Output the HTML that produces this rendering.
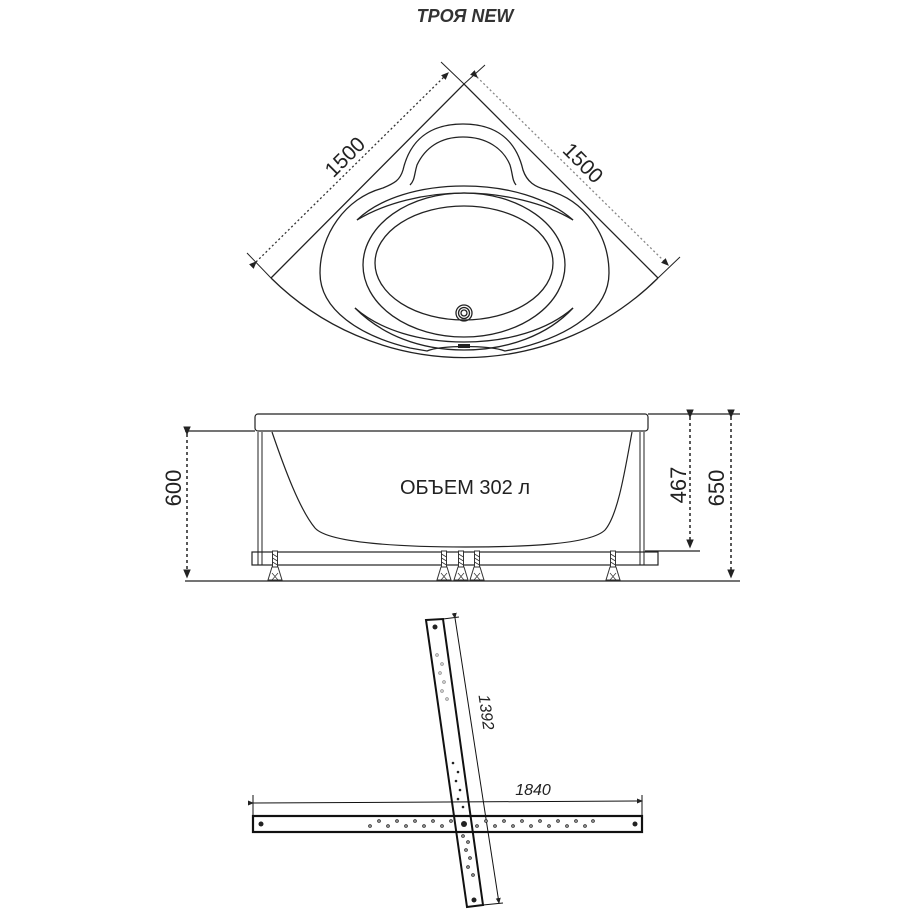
<!DOCTYPE html>
<html><head><meta charset="utf-8"><style>
html,body{margin:0;padding:0;background:#fff;}
svg{display:block;}
text{font-family:"Liberation Sans",sans-serif;fill:#222;}
</style></head><body>
<svg width="912" height="912" viewBox="0 0 912 912" xmlns="http://www.w3.org/2000/svg">
<defs>
<marker id="ar" markerWidth="6" markerHeight="6" refX="5" refY="3" orient="auto"><path d="M0,0.5 L6,3 L0,5.5 Z" fill="#222"/></marker>
<g id="leg"><rect x="-2.5" y="0" width="5" height="16" fill="#fff" stroke="#333" stroke-width="1"/><path d="M-2.5,3 L2.5,6 M-2.5,7 L2.5,10 M-2.5,11 L2.5,14" stroke="#333" stroke-width="0.8"/><path d="M-3,16 L3,16 L7,29 L-7,29 Z" fill="#fff" stroke="#333" stroke-width="1"/><path d="M-3,22 L3,29 M3,22 L-3,29" stroke="#333" stroke-width="0.7"/></g>
</defs>

<text x="465" y="22" font-size="18" font-style="italic" font-weight="bold" text-anchor="middle" style="fill:#333">ТРОЯ NEW</text>

<!-- TOP VIEW -->
<g fill="none" stroke="#222" stroke-width="1.3">
<path d="M271,278 L464,84 L658,278"/>
<path d="M271,278 A275,275 0 0 0 658,278"/>
<path d="M441,62 L464,84 M247,253 L271,278 M485,65 L464,84 M680,257 L658,278" stroke-width="1"/>
<path d="M383,188 C395,183 400,180 403,170 C410,140 430,124 463,124 C496,124 516,140 523,170 C527,182 535,187 547,190 C585,200 609,235 609,273 C609,310 570,335 520,348 L505,351 C490,345 440,345 427,351 L410,348 C360,336 320,310 320,273 C320,235 345,198 383,188 Z"/>
<path d="M410,185 C415,180 414,175 417,165 C425,148 440,137 463,137 C486,137 503,148 510,165 C513,175 512,180 516,185"/>
<path d="M357,220 C380,198 420,186 464,186 C508,186 548,198 573,220"/>
<path d="M357,220 C385,203 425,193 464,193 C503,193 545,203 573,220"/>
<ellipse cx="464" cy="265" rx="101" ry="72"/>
<ellipse cx="464" cy="263" rx="89" ry="57"/>
<path d="M355,308 C380,330 420,342 464,342 C508,342 548,330 573,308"/>
<path d="M355,308 C382,335 420,350 464,350 C508,350 548,335 573,308"/>
<circle cx="464" cy="313" r="8"/><circle cx="464" cy="313" r="5.5"/><circle cx="464" cy="313" r="3"/>
</g>
<rect x="458" y="344" width="12" height="4" fill="#222"/>
<path d="M256,262 L448,73" stroke="#333" stroke-width="1.3" stroke-dasharray="2,2.5" fill="none" marker-start="url(#ar)" marker-end="url(#ar)"/>
<path d="M477,77 L668,265" stroke="#888" stroke-width="1.3" stroke-dasharray="2,2.5" fill="none" marker-start="url(#ar)" marker-end="url(#ar)"/>
<text x="345" y="164" font-size="21" text-anchor="middle" transform="rotate(-45 345 157)">1500</text>
<text x="583" y="170" font-size="21" text-anchor="middle" transform="rotate(45 583 163)">1500</text>

<!-- SIDE VIEW -->
<g fill="none" stroke="#222" stroke-width="1.2">
<path d="M648,414 L740,414 M185,431 L255,431 M185,581 L740,581 M645,551 L700,551"/>
<rect x="255" y="414" width="393" height="17" rx="3" fill="#fff"/>
<path d="M272,432 C285,470 300,510 315,528 C330,545 420,547 465,547 C520,547 590,545 605,530 C618,515 625,470 632,432"/>
<rect x="252" y="552" width="406" height="13" fill="#fff"/>
<path d="M258,432 L258,565 M262,432 L262,565 M640,432 L640,565 M644,432 L644,565" stroke-width="1"/>
</g>
<use href="#leg" x="275" y="551"/>
<use href="#leg" x="444" y="551"/>
<use href="#leg" x="461" y="551"/>
<use href="#leg" x="477" y="551"/>
<use href="#leg" x="613" y="551"/>
<path d="M187,434 L187,577" stroke="#222" stroke-width="1.5" stroke-dasharray="3,3" marker-start="url(#ar)" marker-end="url(#ar)"/>
<path d="M690,417 L690,547" stroke="#222" stroke-width="1.5" stroke-dasharray="3,3" marker-start="url(#ar)" marker-end="url(#ar)"/>
<path d="M731,417 L731,577" stroke="#222" stroke-width="1.5" stroke-dasharray="3,3" marker-start="url(#ar)" marker-end="url(#ar)"/>
<text x="465" y="494" font-size="20" text-anchor="middle">ОБЪЕМ 302 л</text>
<text x="0" y="0" font-size="22" text-anchor="middle" transform="translate(181,488) rotate(-90)">600</text>
<text x="0" y="0" font-size="22" text-anchor="middle" transform="translate(686,485) rotate(-90)">467</text>
<text x="0" y="0" font-size="22" text-anchor="middle" transform="translate(724,488) rotate(-90)">650</text>

<!-- FRAME -->
<g fill="none" stroke="#111">
<rect x="253" y="816" width="389" height="16" stroke-width="2.2" fill="#fff"/>
<path d="M426,620 L443,619 L483,905 L467,907 Z" stroke-width="2"/>
<path d="M443,619 L459,617 M483,905 L503,903" stroke-width="1"/>
<path d="M455,618 L499,903" stroke-width="1" marker-start="url(#ar)" marker-end="url(#ar)"/>
<path d="M253,795 L253,816 M642,795 L642,816" stroke-width="1"/>
<path d="M253,803 L642,801" stroke-width="1" marker-start="url(#ar)" marker-end="url(#ar)"/>
</g>
<g fill="#222">
<circle cx="261" cy="824" r="2.5"/><circle cx="464" cy="824" r="3"/><circle cx="635" cy="824" r="2.5"/>
<circle cx="435" cy="627" r="2.5"/><circle cx="474" cy="900" r="2.5"/>
</g>
<g fill="#fff" stroke="#222" stroke-width="1">
<circle cx="370" cy="826" r="1.3"/><circle cx="379" cy="821" r="1.3"/><circle cx="388" cy="826" r="1.3"/><circle cx="397" cy="821" r="1.3"/><circle cx="406" cy="826" r="1.3"/><circle cx="415" cy="821" r="1.3"/><circle cx="424" cy="826" r="1.3"/><circle cx="433" cy="821" r="1.3"/><circle cx="442" cy="826" r="1.3"/><circle cx="451" cy="821" r="1.3"/>
<circle cx="477" cy="826" r="1.3"/><circle cx="486" cy="821" r="1.3"/><circle cx="495" cy="826" r="1.3"/><circle cx="504" cy="821" r="1.3"/><circle cx="513" cy="826" r="1.3"/><circle cx="522" cy="821" r="1.3"/><circle cx="531" cy="826" r="1.3"/><circle cx="540" cy="821" r="1.3"/><circle cx="549" cy="826" r="1.3"/><circle cx="558" cy="821" r="1.3"/><circle cx="567" cy="826" r="1.3"/><circle cx="576" cy="821" r="1.3"/><circle cx="585" cy="826" r="1.3"/><circle cx="593" cy="821" r="1.3"/>
<circle cx="463" cy="836" r="1.3"/><circle cx="468" cy="842" r="1.3"/><circle cx="466" cy="850" r="1.3"/><circle cx="470" cy="858" r="1.3"/><circle cx="468" cy="867" r="1.3"/><circle cx="473" cy="875" r="1.3"/>
</g>
<g fill="#222">
<circle cx="453" cy="763" r="1.3"/><circle cx="458" cy="772" r="1.3"/><circle cx="456" cy="781" r="1.3"/><circle cx="460" cy="790" r="1.3"/><circle cx="458" cy="799" r="1.3"/><circle cx="463" cy="807" r="1.3"/>
</g>
<g fill="#fff" stroke="#888" stroke-width="0.9">
<circle cx="437" cy="655" r="1.3"/><circle cx="442" cy="664" r="1.3"/><circle cx="440" cy="673" r="1.3"/><circle cx="444" cy="682" r="1.3"/><circle cx="442" cy="691" r="1.3"/><circle cx="447" cy="699" r="1.3"/>
</g>
<text x="533" y="795" font-size="16" font-style="italic" text-anchor="middle">1840</text>
<text x="0" y="0" font-size="16" font-style="italic" text-anchor="middle" transform="translate(481,713) rotate(82)">1392</text>
</svg>
</body></html>
